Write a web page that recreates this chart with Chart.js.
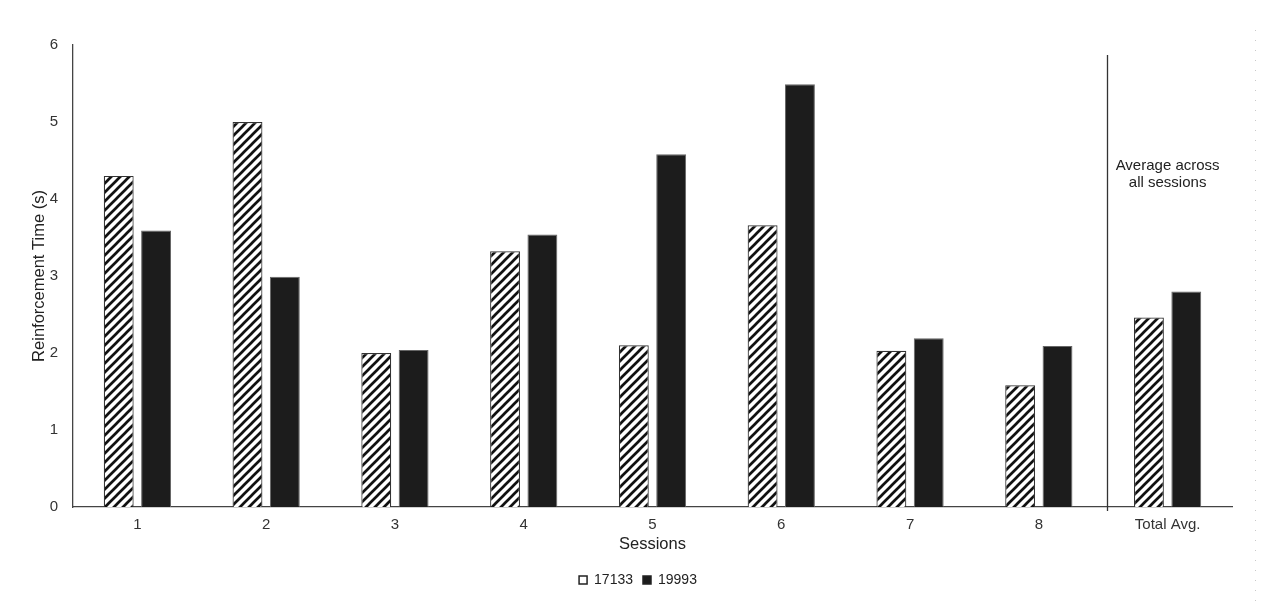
<!DOCTYPE html>
<html><head><meta charset="utf-8">
<script src="https://cdn.jsdelivr.net/npm/chart.js@4"></script>
<style>html,body{margin:0;padding:0;background:#fff}</style>
</head><body>
<canvas id="c" width="1266" height="604" style="width:1266px;height:604px;display:block"></canvas>
<script>
const categories = ['1','2','3','4','5','6','7','8','Total Avg.'];
const series17133 = [4.30, 5.00, 2.00, 3.32, 2.10, 3.66, 2.03, 1.58, 2.46];
const series19993 = [3.59, 2.99, 2.04, 3.54, 4.58, 5.49, 2.19, 2.09, 2.80];
const seriesNames = ['17133', '19993'];
const yTitle = 'Reinforcement Time (s)';
const xTitle = 'Sessions';
const annotationLines = ['Average across', 'all sessions'];

const FONT = "'Liberation Sans', Arial, Helvetica, sans-serif";

function makeHatch() {
  const s = 9;
  const c = document.createElement('canvas');
  c.width = s; c.height = s;
  const g = c.getContext('2d');
  g.fillStyle = '#fff';
  g.fillRect(0, 0, s, s);
  g.strokeStyle = '#111';
  g.lineWidth = 2.7;
  g.beginPath();
  g.moveTo(-1, s + 1); g.lineTo(s + 1, -1);
  g.moveTo(-1, 1); g.lineTo(1, -1);
  g.moveTo(s - 1, s + 1); g.lineTo(s + 1, s - 1);
  g.stroke();
  return g.createPattern(c, 'repeat');
}
const ctx = document.getElementById('c').getContext('2d');
const hatch = makeHatch();

const legendShift = {
  id: 'legendShift',
  afterLayout(chart) {
    const l = chart.legend;
    if (l) { l.left += 22; l.right += 22; }
  }
};

const decor = {
  id: 'decor',
  afterDatasetsDraw(chart) {
    const { ctx, chartArea, scales: { x, y } } = chart;
    ctx.save();
    const sx = Math.round(x.getPixelForValue(7.53)) + 0.5;
    ctx.strokeStyle = '#333';
    ctx.lineWidth = 1.3;
    ctx.beginPath();
    ctx.moveTo(sx, y.getPixelForValue(5.87));
    ctx.lineTo(sx, chartArea.bottom + 4);
    ctx.stroke();
    ctx.fillStyle = '#222';
    ctx.font = '15px ' + FONT;
    ctx.textAlign = 'center';
    ctx.textBaseline = 'middle';
    const ax = x.getPixelForValue(8);
    const ay = y.getPixelForValue(4.43);
    annotationLines.forEach((t, i) => ctx.fillText(t, ax, ay + i * 17));
    ctx.strokeStyle = '#c8c8c8';
    ctx.lineWidth = 1;
    ctx.setLineDash([1, 9]);
    ctx.beginPath();
    ctx.moveTo(chart.width - 10.5, 30);
    ctx.lineTo(chart.width - 10.5, chart.height);
    ctx.stroke();
    ctx.restore();
  }
};

new Chart(ctx, {
  type: 'bar',
  data: {
    labels: categories,
    datasets: [
      { label: seriesNames[0], data: series17133, backgroundColor: hatch, borderColor: '#333', borderWidth: 1.2 },
      { label: seriesNames[1], data: series19993, backgroundColor: '#1c1c1c', borderColor: '#666', borderWidth: 1 }
    ]
  },
  options: {
    responsive: false,
    animation: false,
    devicePixelRatio: 1,
    categoryPercentage: 0.58,
    barPercentage: 0.8,
    layout: { padding: { top: 45, right: 34, left: 0, bottom: 7 } },
    plugins: {
      tooltip: { enabled: false },
      legend: {
        position: 'bottom',
        labels: {
          boxWidth: 8, boxHeight: 8, padding: 10,
          color: '#222',
          font: { family: FONT, size: 14 },
          generateLabels(chart) {
            return chart.data.datasets.map((d, i) => ({
              text: d.label,
              fillStyle: i === 0 ? '#fff' : '#1c1c1c',
              strokeStyle: '#222',
              lineWidth: 1.5,
              datasetIndex: i,
              fontColor: '#222'
            }));
          }
        }
      }
    },
    scales: {
      x: {
        afterFit(scale) { scale.height = 56; },
        grid: { display: false, drawTicks: false },
        border: { display: true, color: '#444', width: 1.3 },
        ticks: { color: '#333', padding: 9, font: { family: FONT, size: 15 } },
        title: { display: true, text: xTitle, color: '#222', padding: { top: 0, bottom: 9 }, font: { family: FONT, size: 16.5 } }
      },
      y: {
        min: 0, max: 6,
        afterFit(scale) { scale.width = 73; },
        grid: { display: false, drawTicks: false },
        border: { display: true, color: '#444', width: 1.3 },
        ticks: { stepSize: 1, color: '#333', padding: 15, font: { family: FONT, size: 15 } },
        title: { display: true, text: yTitle, color: '#222', padding: { top: 30, bottom: 0 }, font: { family: FONT, size: 16.5 } }
      }
    }
  },
  plugins: [legendShift, decor]
});
</script>
</body></html>
